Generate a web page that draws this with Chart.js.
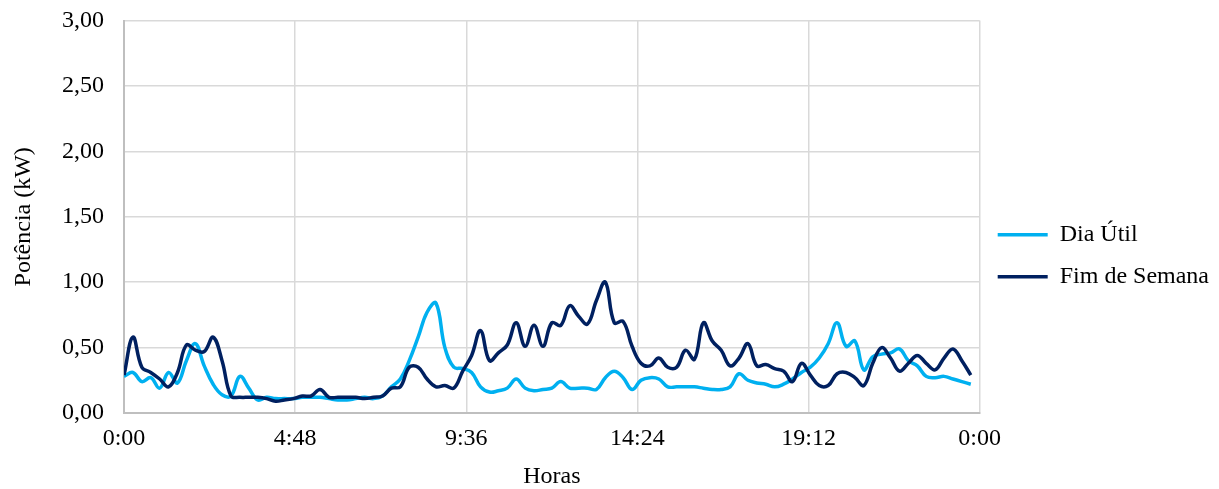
<!DOCTYPE html>
<html>
<head>
<meta charset="utf-8">
<script src="https://cdn.jsdelivr.net/npm/chart.js@4/dist/chart.umd.min.js"></script>
<style>
  html, body { margin: 0; padding: 0; background: #fff; }
  #wrap { width: 1219px; height: 489px; }
</style>
</head>
<body>
<div id="wrap"><canvas id="chart" width="1219" height="489"></canvas></div>
<script>
// one reading every 15 minutes, 0:00 .. 23:45
const stepMin = 15;
const xTicks = [0, 288, 576, 864, 1152, 1440];
const yTicks = [0, 0.5, 1, 1.5, 2, 2.5, 3];

const diaUtil = [
  0.28, 0.31, 0.24, 0.27, 0.19, 0.31, 0.23, 0.40, 0.53, 0.36, 0.22, 0.14,
  0.13, 0.28, 0.19, 0.10, 0.12, 0.11, 0.11, 0.11, 0.12, 0.12, 0.12, 0.11,
  0.10, 0.10, 0.11, 0.12, 0.11, 0.13, 0.20, 0.26, 0.40, 0.58, 0.77, 0.84,
  0.50, 0.35, 0.34, 0.31, 0.20, 0.16, 0.17, 0.19, 0.26, 0.19, 0.17, 0.18,
  0.19, 0.24, 0.19, 0.19, 0.19, 0.18, 0.27, 0.32, 0.27, 0.18, 0.25, 0.27,
  0.26, 0.20, 0.20, 0.20, 0.20, 0.19, 0.18, 0.18, 0.20, 0.30, 0.25, 0.23,
  0.22, 0.20, 0.22, 0.26, 0.31, 0.35, 0.42, 0.53, 0.69, 0.51, 0.55, 0.33,
  0.43, 0.45, 0.46, 0.49, 0.40, 0.36, 0.28, 0.27, 0.28, 0.26, 0.24, 0.22
];

const fimSemana = [
  0.29, 0.58, 0.35, 0.31, 0.26, 0.20, 0.31, 0.52, 0.48, 0.47, 0.58, 0.40,
  0.13, 0.12, 0.12, 0.12, 0.11, 0.09, 0.10, 0.11, 0.13, 0.13, 0.18, 0.12,
  0.12, 0.12, 0.12, 0.11, 0.12, 0.13, 0.19, 0.20, 0.35, 0.35, 0.26, 0.20,
  0.21, 0.19, 0.32, 0.44, 0.63, 0.40, 0.46, 0.52, 0.69, 0.51, 0.67, 0.51,
  0.69, 0.67, 0.82, 0.74, 0.68, 0.86, 1.00, 0.69, 0.70, 0.51, 0.38, 0.36,
  0.42, 0.35, 0.35, 0.48, 0.41, 0.69, 0.55, 0.48, 0.36, 0.42, 0.53, 0.36,
  0.37, 0.34, 0.32, 0.24, 0.38, 0.29, 0.21, 0.21, 0.30, 0.31, 0.27, 0.21,
  0.38, 0.50, 0.42, 0.32, 0.38, 0.44, 0.38, 0.33, 0.42, 0.49, 0.40, 0.29
];

function toPoints(arr) {
  return arr.map((v, i) => ({ x: i * stepMin, y: v }));
}
function fmtTime(m) {
  m = m % 1440;
  const h = Math.floor(m / 60), mm = m % 60;
  return h + ':' + (mm < 10 ? '0' : '') + mm;
}

const serif = { family: "'Liberation Serif', 'Times New Roman', serif", size: 24, lineHeight: 1 };
// tiny line height on the y labels so the top label doesn't push the plot down
const ySerif = Object.assign({}, serif, { lineHeight: 0.05 });

new Chart(document.getElementById('chart'), {
  type: 'line',
  data: {
    datasets: [
      {
        label: 'Dia Útil',
        data: toPoints(diaUtil),
        borderColor: '#00B0F0',
        backgroundColor: '#00B0F0',
        borderWidth: 3.5,
        pointRadius: 0,
        tension: 0.4,
        order: 2
      },
      {
        label: 'Fim de Semana',
        data: toPoints(fimSemana),
        borderColor: '#002060',
        backgroundColor: '#002060',
        borderWidth: 3.5,
        pointRadius: 0,
        tension: 0.4,
        order: 1
      }
    ]
  },
  options: {
    responsive: false,
    animation: false,
    layout: { padding: { top: 0, left: 12, right: 0, bottom: 0 } },
    plugins: {
      legend: {
        position: 'right',
        // blank title only nudges the two entries down a little
        title: { display: true, text: ' ', font: { size: 12 }, padding: 4 },
        labels: {
          usePointStyle: true,
          pointStyle: 'line',
          pointStyleWidth: 50,
          color: '#000',
          font: serif,
          padding: 18,
          sort: (a, b) => a.datasetIndex - b.datasetIndex
        }
      },
      tooltip: { enabled: false }
    },
    scales: {
      x: {
        type: 'linear',
        min: 0,
        max: 1440,
        afterBuildTicks: s => { s.ticks = xTicks.map(v => ({ value: v })); },
        ticks: { color: '#000', font: serif, padding: 14, maxRotation: 0, callback: v => fmtTime(v) },
        grid: { color: '#d9d9d9', lineWidth: 1.5, drawTicks: false },
        border: { color: '#bfbfbf', width: 2 },
        title: { display: true, text: 'Horas', color: '#000', font: serif, padding: { top: 0, bottom: 0 } }
      },
      y: {
        min: 0,
        max: 3,
        afterBuildTicks: s => { s.ticks = yTicks.map(v => ({ value: v })); },
        ticks: { color: '#000', font: ySerif, padding: 20, callback: v => v.toFixed(2).replace('.', ',') },
        grid: { color: '#d9d9d9', lineWidth: 1.5, drawTicks: false },
        border: { color: '#bfbfbf', width: 2 },
        title: { display: true, text: 'Potência (kW)', color: '#000', font: serif, padding: { top: 0, bottom: 6 } }
      }
    }
  }
});
</script>
</body>
</html>
